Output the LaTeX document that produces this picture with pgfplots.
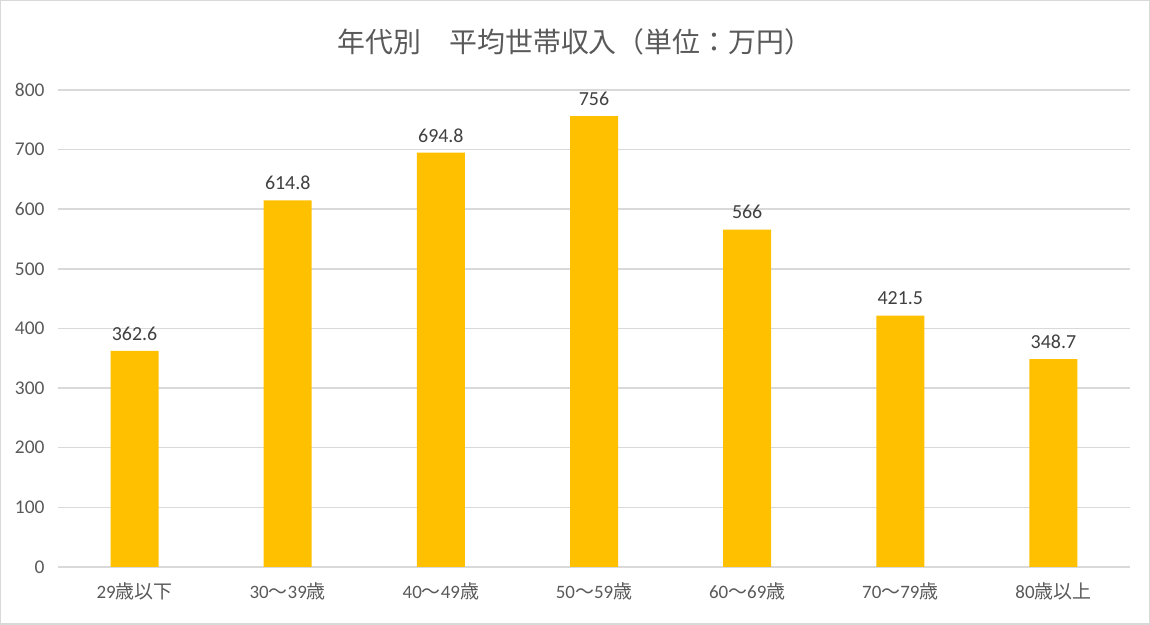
\documentclass[border=0pt]{standalone}
\usepackage{fontspec}
\setmainfont{Carlito}
\newfontfamily\cjk{Noto Sans CJK JP}
\usepackage{pgfplots}
\pgfplotsset{compat=1.18}
\definecolor{bargold}{HTML}{FFC000}
\definecolor{txtgray}{HTML}{595959}
\definecolor{lblgray}{HTML}{404040}
\definecolor{gridgray}{HTML}{D9D9D9}
\begin{document}
\begin{tikzpicture}[x=1bp,y=1bp]
\draw[gridgray,line width=1.5bp] (0.75,0.75) rectangle (1149.25,624.25);
\node[txtgray,font=\cjk\fontsize{28}{32}\selectfont] at (575,583) {年代別　平均世帯収入（単位：万円）};
\begin{axis}[
  at={(58bp,58bp)}, anchor=south west,
  scale only axis, width=1072bp, height=477bp,
  xmin=-0.5, xmax=6.5, ymin=0, ymax=800,
  ytick={0,100,...,800},
  xtick=data,
  xticklabels={29{\cjk 歳以下},30{\cjk ～}39{\cjk 歳},40{\cjk ～}49{\cjk 歳},50{\cjk ～}59{\cjk 歳},60{\cjk ～}69{\cjk 歳},70{\cjk ～}79{\cjk 歳},80{\cjk 歳以上}},
  axis line style={draw=none},
  major tick length=0pt,
  ymajorgrids, grid style={gridgray,line width=1.5bp},
  tick label style={txtgray,font=\fontsize{19.5}{22}\selectfont},
  xticklabel style={yshift=-12bp,font=\fontsize{19}{22}\selectfont},
  yticklabel style={xshift=-10bp},
  /pgf/number format/assume math mode=true,
  ybar, bar width=48bp,
  nodes near coords={\pgfmathprintnumber[fixed,precision=1,assume math mode=true]{\pgfplotspointmeta}},
  nodes near coords style={lblgray,font=\fontsize{20}{23}\selectfont,yshift=7bp},
]
\addplot[fill=bargold,draw=none] coordinates {(0,362.6) (1,614.8) (2,694.8) (3,756) (4,566) (5,421.5) (6,348.7)};
\end{axis}
\end{tikzpicture}
\end{document}
